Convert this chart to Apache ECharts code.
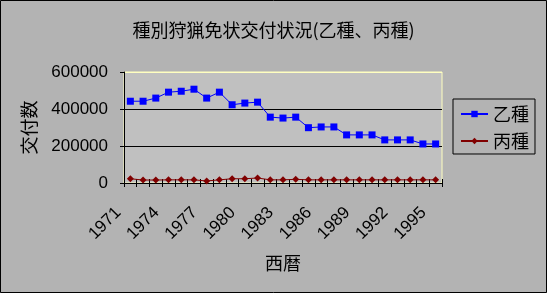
<!DOCTYPE html>
<html><head><meta charset="utf-8">
<script src="https://cdn.jsdelivr.net/npm/echarts@6/dist/echarts.min.js"></script>
<style>html,body{margin:0;padding:0;background:#B3B3B3;}#c{width:547px;height:293px;box-sizing:border-box;}</style>
</head><body><div id="c"></div>
<script>
const years = ['1971','1972','1973','1974','1975','1976','1977','1978','1979','1980','1981','1982','1983','1984','1985','1986','1987','1988','1989','1990','1991','1992','1993','1994','1995'];
const otsu = [442000,442000,459000,491000,496000,507000,459000,491000,423000,432000,437000,356000,351000,356000,299000,303000,303000,260000,260000,260000,233000,233000,233000,211000,211000];
const hei = [23000,16000,16000,17000,17000,17000,11000,17000,23000,23000,27000,17000,17000,20000,17000,17000,17000,17000,17000,17000,17000,17000,17000,17000,17000];
const yTicks = [0,200000,400000,600000];
const cjk = '"Noto Sans CJK JP", sans-serif';
const lat = '"Liberation Sans", Arial, sans-serif';
const chart = echarts.init(document.getElementById('c'));
chart.setOption({
  backgroundColor: '#B3B3B3',
  animation: false,
  graphic: [{type:'rect', shape:{x:0.5,y:0.5,width:546,height:292}, style:{fill:'none',stroke:'#000',lineWidth:1}, silent:true}],
  title: {text:'種別狩猟免状交付状況(乙種、丙種)', left:'center', top:16, textStyle:{fontFamily:cjk, fontSize:18, fontWeight:'normal', color:'#000'}},
  grid: {left:124, right:105, top:72, bottom:110, show:true, backgroundColor:'#C0C0C0', borderColor:'#FFFFC0', borderWidth:1},
  legend: {orient:'vertical', left:453, top:99, padding:[6,6,4,7], itemGap:9, itemWidth:27, itemHeight:8, borderColor:'#000', borderWidth:1, backgroundColor:'#B3B3B3',
    textStyle:{fontFamily:cjk, fontSize:18, color:'#000'}, data:['乙種','丙種']},
  xAxis: [{type:'category', data:years, boundaryGap:true, name:'西暦', nameLocation:'middle', nameGap:71,
    nameTextStyle:{fontFamily:cjk, fontSize:18, color:'#000'},
    axisLine:{lineStyle:{color:'#000',width:1}}, axisTick:{show:true, length:4, interval:0, lineStyle:{color:'#000'}},
    axisLabel:{interval:2, rotate:45, fontFamily:lat, fontSize:17, color:'#000', margin:15, padding:[0,17,0,0]}},
    {type:'category', data:years, position:'bottom', boundaryGap:true, axisLine:{show:false}, axisTick:{show:true, inside:true, length:4, interval:0, lineStyle:{color:'#000'}}, axisLabel:{show:false}}],
  yAxis: {type:'value', min:0, max:600000, interval:200000, name:'交付数', nameLocation:'middle', nameGap:86, nameRotate:90,
    nameTextStyle:{fontFamily:cjk, fontSize:18, color:'#000'},
    axisLine:{show:true, lineStyle:{color:'#000'}}, axisTick:{show:true, length:4, lineStyle:{color:'#000'}},
    axisLabel:{fontFamily:lat, fontSize:17, color:'#000', margin:16, formatter: v => yTicks.includes(v) ? String(v) : ''},
    splitLine:{show:true, lineStyle:{color:['#000','#000','#000','#FFFFC0'], width:1}}},
  series: [
    {name:'乙種', type:'line', data:otsu, symbol:'rect', symbolSize:7, itemStyle:{color:'#0000FF'}, lineStyle:{color:'#0000FF', width:1}},
    {name:'丙種', type:'line', data:hei, symbol:'diamond', symbolSize:7, itemStyle:{color:'#800000'}, lineStyle:{color:'#800000', width:1}}
  ]
});
</script></body></html>
